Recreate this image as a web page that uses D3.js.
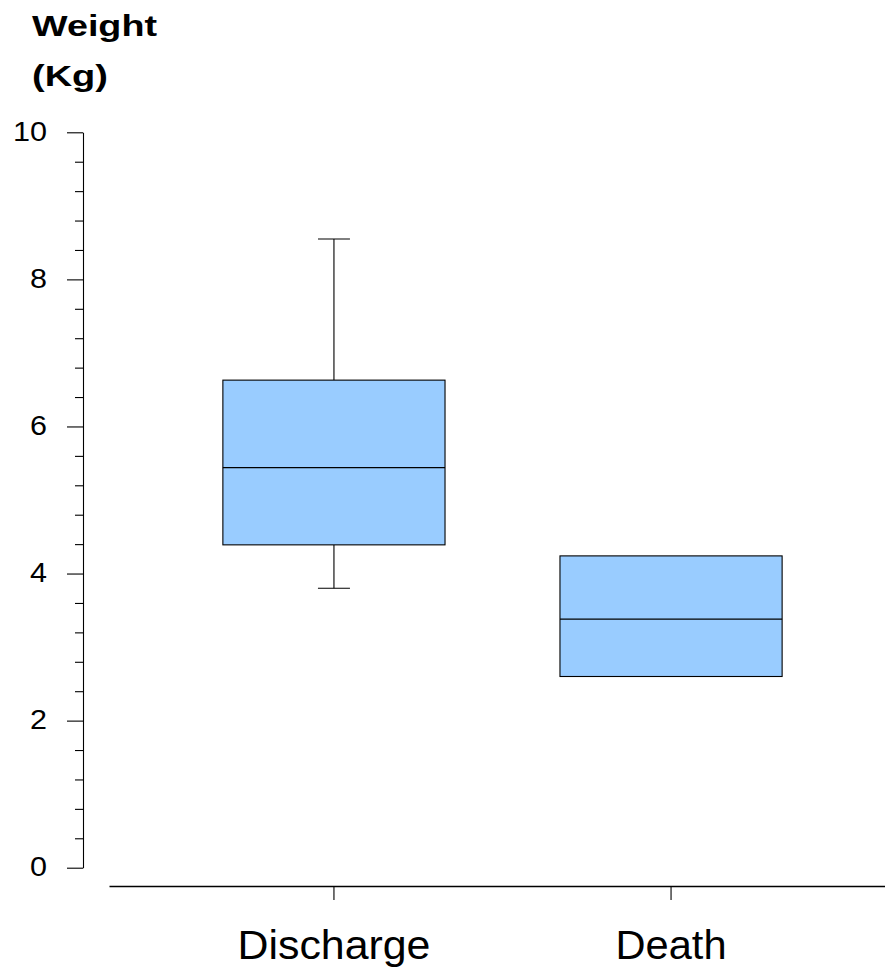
<!DOCTYPE html>
<html>
<head>
<meta charset="utf-8">
<script src="https://cdn.jsdelivr.net/npm/d3@7"></script>
<style>
  html, body { margin: 0; padding: 0; background: #fff; }
  svg { display: block; }
  text { font-family: "Liberation Sans", Arial, Helvetica, sans-serif; fill: #000; }
</style>
</head>
<body>
<script>
// ---- data ----
const categories = ["Discharge", "Death"];
const whiskerLow  = [3.80, 2.60];
const q1          = [4.39, 2.60];
const median      = [5.44, 3.38];
const q3          = [6.63, 4.24];
const whiskerHigh = [8.55, 4.24];
const yTicks = [0, 2, 4, 6, 8, 10];
const yMinorTicks = [0.4, 0.8, 1.2, 1.6, 2.4, 2.8, 3.2, 3.6, 4.4, 4.8, 5.2, 5.6, 6.4, 6.8, 7.2, 7.6, 8.4, 8.8, 9.2, 9.6];
const yTitleLines = ["Weight", "(Kg)"];

const W = 885, H = 975;
const svg = d3.select("body").append("svg").attr("width", W).attr("height", H);

const y = d3.scaleLinear().domain([0, 10]).range([867.7, 132.3]);
const x = d3.scaleBand().domain(categories).range([109, 885])
  .paddingInner(0).paddingOuter(0.151).align(0.554);

const yAxisX = 83;
const xAxisY = 886;

// minor y ticks
const gMinor = svg.append("g").attr("transform", `translate(${yAxisX},0)`)
  .call(d3.axisLeft(y).tickValues(yMinorTicks).tickSize(8).tickSizeOuter(0).tickFormat(""));
gMinor.select(".domain").remove();

// major y axis
const gY = svg.append("g").attr("transform", `translate(${yAxisX},0)`)
  .call(d3.axisLeft(y).tickValues(yTicks).tickSize(16).tickSizeOuter(0).tickPadding(20).tickFormat(d3.format("d")));
gY.selectAll("text").attr("font-size", 27).attr("dy", "0.3em")
  .attr("font-family", "Liberation Sans, Arial, sans-serif")
  .attr("textLength", d => d >= 10 ? 34 : 17).attr("lengthAdjust", "spacingAndGlyphs");

svg.selectAll(".domain, .tick line").attr("stroke", "#000").attr("stroke-width", 1.1);

// y title
svg.append("g").selectAll("text").data(yTitleLines).join("text")
  .attr("x", 32).attr("y", (d, i) => i === 0 ? 36 : 86)
  .attr("font-size", 30).attr("font-weight", "bold")
  .attr("textLength", (d, i) => i === 0 ? 125 : 76).attr("lengthAdjust", "spacingAndGlyphs")
  .text(d => d);

// x axis
const gX = svg.append("g").attr("transform", `translate(0,${xAxisY})`)
  .call(d3.axisBottom(x).tickSize(14).tickSizeOuter(0));
gX.select(".domain").attr("stroke", "#000").attr("stroke-width", 1.3);
gX.selectAll(".tick line").attr("stroke", "#000").attr("stroke-width", 1.1);
gX.selectAll("text").attr("y", 73).attr("dy", 0).attr("font-size", 41)
  .attr("font-family", "Liberation Sans, Arial, sans-serif")
  .attr("textLength", d => d === "Discharge" ? 193 : 111).attr("lengthAdjust", "spacingAndGlyphs");

// boxes
const boxW = 0.659 * x.bandwidth();
const capW = 32;
const data = categories.map((c, i) => ({
  c, lo: whiskerLow[i], q1: q1[i], med: median[i], q3: q3[i], hi: whiskerHigh[i]
}));

const g = svg.append("g").selectAll("g").data(data).join("g")
  .attr("transform", d => `translate(${x(d.c) + x.bandwidth() / 2},0)`);

// whiskers
g.filter(d => d.hi > d.q3).append("line")
  .attr("x1", 0).attr("x2", 0).attr("y1", d => y(d.q3)).attr("y2", d => y(d.hi))
  .attr("stroke", "#000").attr("stroke-width", 1.1);
g.filter(d => d.hi > d.q3).append("line")
  .attr("x1", -capW / 2).attr("x2", capW / 2).attr("y1", d => y(d.hi)).attr("y2", d => y(d.hi))
  .attr("stroke", "#000").attr("stroke-width", 1.1);
g.filter(d => d.lo < d.q1).append("line")
  .attr("x1", 0).attr("x2", 0).attr("y1", d => y(d.q1)).attr("y2", d => y(d.lo))
  .attr("stroke", "#000").attr("stroke-width", 1.1);
g.filter(d => d.lo < d.q1).append("line")
  .attr("x1", -capW / 2).attr("x2", capW / 2).attr("y1", d => y(d.lo)).attr("y2", d => y(d.lo))
  .attr("stroke", "#000").attr("stroke-width", 1.1);

g.append("rect")
  .attr("x", -boxW / 2).attr("width", boxW)
  .attr("y", d => y(d.q3)).attr("height", d => y(d.q1) - y(d.q3))
  .attr("fill", "#99ccff").attr("stroke", "#000").attr("stroke-width", 1.1);

g.append("line")
  .attr("x1", -boxW / 2).attr("x2", boxW / 2).attr("y1", d => y(d.med)).attr("y2", d => y(d.med))
  .attr("stroke", "#000").attr("stroke-width", 1.1);
</script>
</body>
</html>
